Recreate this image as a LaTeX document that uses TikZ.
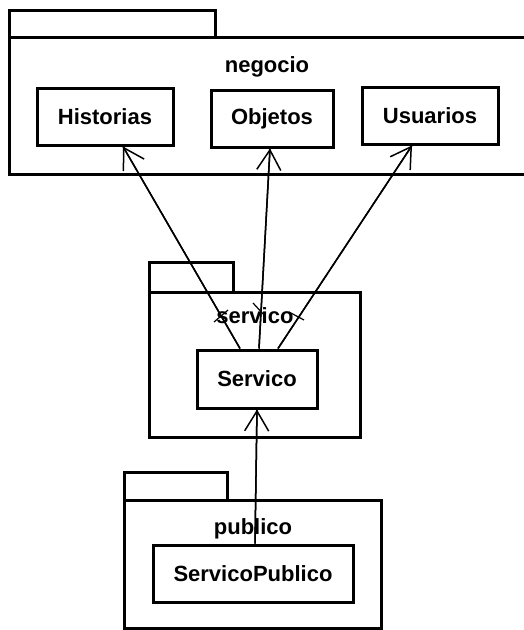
\documentclass[tikz,border=0pt]{standalone}
\usepackage{fontspec}
\setmainfont{Liberation Sans}
\usetikzlibrary{arrows.meta}
\begin{document}
\begin{tikzpicture}[x=1pt,y=-1pt,
  pkgline/.style={line width=3pt},
  cls/.style={draw, line width=3pt, inner sep=0pt, fill=white,
    font=\fontsize{22}{26}\selectfont\bfseries},
  pkglabel/.style={inner sep=0pt, font=\fontsize{22}{26}\selectfont\bfseries},
  dep/.style={line width=1.5pt, -{Straight Barb[length=20pt,width=24pt,line width=1.5pt]}},
  tick/.style={line width=1.2pt}]
\useasboundingbox (0,0) rectangle (524,630);
\clip (0,0) rectangle (524,630);
% package negocio
\draw[pkgline] (9,37) -- (9,10) -- (215,10) -- (215,37);
\draw[pkgline] (530,37) -- (9,37) -- (9,174) -- (530,174);
\node[pkglabel] (lneg) at (267,67) {negocio};
% package servico
\draw[pkgline] (149,292) rectangle (233,262);
\draw[pkgline] (149,292) rectangle (360,437);
% package publico
\draw[pkgline] (124,500) rectangle (227,472);
\draw[pkgline] (124,500) rectangle (381,628);
% classes
\node[cls, minimum width=136pt, minimum height=57pt] (hist) at (105,116.5) {Historias};
\node[cls, minimum width=122pt, minimum height=57pt] (obj) at (272,118.5) {Objetos};
\node[cls, minimum width=136pt, minimum height=57pt] (usu) at (430,115.5) {Usuarios};
\node[cls, minimum width=120pt, minimum height=58pt] (srv) at (257,379) {Servico};
\node[cls, minimum width=200pt, minimum height=57pt] (sp) at (253,573.5) {ServicoPublico};
% dependencies
\draw[dep] ([xshift=-17pt]srv.north) -- ([xshift=18pt]hist.south);
\draw[dep] ([xshift=2pt]srv.north) -- ([xshift=-2pt]obj.south);
\draw[dep] ([xshift=21pt]srv.north) -- ([xshift=-18pt]usu.south);
\draw[dep] ([xshift=2pt]sp.north) -- (srv.south);
% package labels drawn over lines
\node[pkglabel] (lsrv) at (255,316) {servico};
\node[pkglabel] (lpub) at (253,529) {publico};
\draw[line width=1.5pt] ([xshift=-17pt]srv.north) -- ([xshift=18pt]hist.south);
\draw[line width=1.5pt] ([xshift=2pt]srv.north) -- ([xshift=-2pt]obj.south);
\draw[line width=1.5pt] ([xshift=21pt]srv.north) -- ([xshift=-18pt]usu.south);
\draw[line width=1.5pt] ([xshift=2pt]sp.north) -- (srv.south);
% small ticks
\draw[tick] (214,322) -- (228,310);
\draw[tick] (253,303) -- (265,316);
\draw[tick] (289,312) -- (304,320);
\end{tikzpicture}
\end{document}
